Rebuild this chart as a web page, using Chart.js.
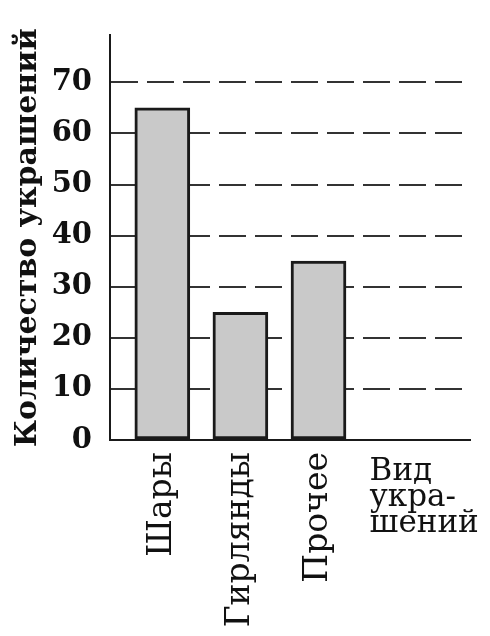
<!DOCTYPE html>
<html>
<head>
<meta charset="utf-8">
<script src="https://cdn.jsdelivr.net/npm/chart.js@4.4.0/dist/chart.umd.min.js"></script>
<style>
  html, body { margin: 0; padding: 0; background: #fff; }
  #wrap { width: 490px; height: 636px; }
</style>
</head>
<body>
<div id="wrap"><canvas id="decorChart" width="490" height="636"></canvas></div>
<script>
// data
const categories = ['Шары', 'Гирлянды', 'Прочее'];
const counts = [65, 25, 35];
const yTicks = [0, 10, 20, 30, 40, 50, 60, 70];
const yTitle = 'Количество украшений';
const xTitleLines = ['Вид', 'укра-', 'шений'];

const ctx = document.getElementById('decorChart').getContext('2d');
const serif = "'DejaVu Serif', 'Liberation Serif', serif";

// caption of the x axis sits in the empty slot after the last category
const xCaption = {
  id: 'xCaption',
  afterDraw(chart) {
    const xs = chart.scales.x;
    const ys = chart.scales.y;
    const c = chart.ctx;
    c.save();
    c.font = '31px ' + serif;
    c.fillStyle = '#111';
    c.textAlign = 'left';
    c.textBaseline = 'alphabetic';
    const left = xs.getPixelForValue(categories.length + 1) - 27;
    xTitleLines.forEach((line, i) => {
      c.fillText(line, left, ys.bottom + 40 + i * 26);
    });
    c.restore();
  }
};

const myChart = new Chart(ctx, {
  type: 'bar',
  data: {
    datasets: [{
      data: counts.map((v, i) => ({ x: i + 1, y: v })),
      backgroundColor: '#c9c9c9',
      borderColor: '#1a1a1a',
      borderWidth: 3,
      borderSkipped: false,
      barThickness: 55
    }]
  },
  options: {
    responsive: false,
    animation: false,
    layout: { padding: { top: 25, right: 20, left: 0, bottom: 0 } },
    plugins: {
      legend: { display: false },
      tooltip: { enabled: false }
    },
    scales: {
      x: {
        type: 'linear',
        offset: false,
        min: 0.33,
        max: 4.94,
        afterBuildTicks: s => { s.ticks = categories.map((c, i) => ({ value: i + 1 })); },
        afterFit: s => { s.height = 196; },
        grid: { display: false, drawTicks: false },
        border: { display: true, color: '#1a1a1a', width: 2 },
        ticks: {
          autoSkip: false,
          minRotation: 90,
          maxRotation: 90,
          padding: 12,
          color: '#111',
          font: { family: serif, size: 33 },
          callback: v => categories[v - 1] || ''
        }
      },
      y: {
        min: 0,
        max: 79.2,
        afterBuildTicks: s => { s.ticks = yTicks.map(v => ({ value: v })); },
        afterFit: s => { s.width = 110; },
        grid: {
          color: ctx => ctx.tick && ctx.tick.value === 0 ? 'rgba(0,0,0,0)' : '#333',
          lineWidth: 2,
          drawTicks: false
        },
        border: { display: true, color: '#1a1a1a', width: 2, dash: [27, 9] },
        ticks: {
          padding: 18,
          color: '#111',
          font: { family: serif, size: 29, weight: 'bold' }
        },
        title: {
          display: true,
          text: yTitle,
          color: '#111',
          padding: { top: 10, bottom: 0 },
          font: { family: serif, size: 30, weight: 'bold' }
        }
      }
    }
  },
  plugins: [xCaption]
});
</script>
</body>
</html>
